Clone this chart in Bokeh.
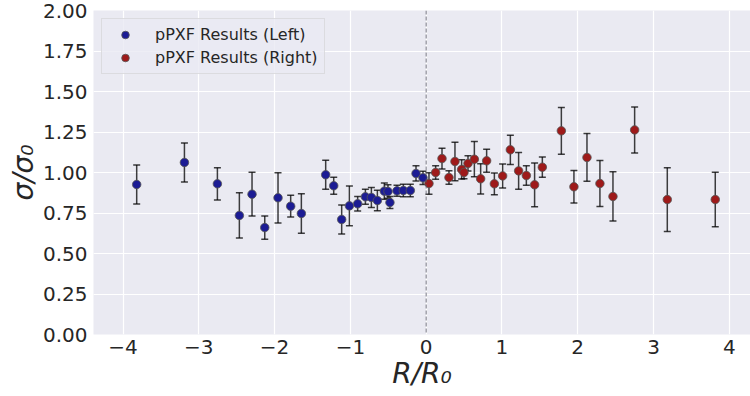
from bokeh.plotting import figure
from bokeh.models import ColumnDataSource, Whisker, TeeHead, Span, Legend, LegendItem, FixedTicker
from bokeh.embed import file_html
from bokeh.resources import INLINE

x_left = [-3.82, -3.19, -2.755, -2.465, -2.298, -2.13, -1.955, -1.788, -1.647, -1.326, -1.22, -1.115,
          -1.013, -0.904, -0.802, -0.723, -0.644, -0.552, -0.504, -0.478, -0.385, -0.301, -0.209, -0.134, -0.042]
y_left = [0.926, 1.062, 0.930, 0.735, 0.866, 0.660, 0.844, 0.792, 0.747, 0.986, 0.918, 0.710,
          0.794, 0.807, 0.850, 0.846, 0.827, 0.885, 0.883, 0.815, 0.887, 0.889, 0.889, 0.994, 0.967]
err_left = [0.12, 0.12, 0.10, 0.14, 0.135, 0.072, 0.155, 0.067, 0.122, 0.09, 0.052, 0.09,
            0.122, 0.045, 0.046, 0.062, 0.063, 0.05, 0.042, 0.037, 0.034, 0.038, 0.038, 0.047, 0.041]

x_right = [0.037, 0.125, 0.209, 0.301, 0.380, 0.468, 0.499, 0.552, 0.636, 0.719, 0.798, 0.90, 1.009,
           1.111, 1.220, 1.322, 1.431, 1.533, 1.784, 1.95, 2.122, 2.293, 2.465, 2.751, 3.182, 3.815]
y_right = [0.932, 1.0, 1.086, 0.969, 1.068, 1.019, 1.0, 1.056, 1.082, 0.961, 1.072, 0.930, 0.979,
           1.140, 1.010, 0.981, 0.924, 1.033, 1.257, 0.912, 1.093, 0.932, 0.852, 1.263, 0.833, 0.833]
err_right = [0.067, 0.042, 0.064, 0.042, 0.119, 0.059, 0.038, 0.047, 0.109, 0.093, 0.071, 0.067, 0.074,
             0.09, 0.113, 0.06, 0.135, 0.063, 0.145, 0.1, 0.147, 0.142, 0.152, 0.142, 0.197, 0.168]

x_ticks = [-4, -3, -2, -1, 0, 1, 2, 3, 4]
y_ticks = [0.0, 0.25, 0.5, 0.75, 1.0, 1.25, 1.5, 1.75, 2.0]
labels = ["pPXF Results (Left)", "pPXF Results (Right)"]

FONT = "DejaVu Sans"
TXT = "#262626"

p = figure(width=750, height=396, output_backend="svg", toolbar_location=None,
           x_range=(-4.39, 4.28), y_range=(0, 2.0),
           min_border_left=93, min_border_right=0, min_border_top=10, min_border_bottom=62)
p.background_fill_color = "#EAEAF2"
p.border_fill_color = "white"
p.outline_line_color = None

for g in (p.xgrid[0], p.ygrid[0]):
    g.grid_line_color = "white"
    g.grid_line_width = 1.2
p.xgrid[0].ticker = FixedTicker(ticks=x_ticks)
p.ygrid[0].ticker = FixedTicker(ticks=y_ticks)

p.xaxis.ticker = FixedTicker(ticks=x_ticks)
p.yaxis.ticker = FixedTicker(ticks=y_ticks)
p.xaxis.major_label_overrides = {t: (str(t) if t >= 0 else "\u2212" + str(-t)) for t in x_ticks}
p.yaxis.major_label_overrides = {t: "%.2f" % t for t in y_ticks}

for ax in (p.xaxis[0], p.yaxis[0]):
    ax.axis_line_color = None
    ax.major_tick_line_color = None
    ax.minor_tick_line_color = None
    ax.major_tick_out = 0
    ax.major_tick_in = 0
    ax.minor_tick_out = 0
    ax.minor_tick_in = 0
    ax.major_label_text_font = FONT
    ax.major_label_text_font_size = "20px"
    ax.major_label_text_color = TXT
    ax.axis_label_text_font = FONT
    ax.axis_label_text_font_style = "italic"
    ax.axis_label_text_font_size = "28px"
    ax.axis_label_text_color = TXT
p.xaxis.axis_label = "R/R\u2080"
p.yaxis.axis_label = "\u03c3/\u03c3\u2080"
p.xaxis.major_label_standoff = 5
p.yaxis.major_label_standoff = 6
p.xaxis.axis_label_standoff = 0
p.yaxis.axis_label_standoff = 0

p.add_layout(Span(location=0, dimension="height", line_color="#555566",
                  line_dash="4 2", line_width=0.8))

renderers = []
for xs, ys, es, col in ((x_left, y_left, err_left, "#1c1c94"),
                        (x_right, y_right, err_right, "#9e1a1a")):
    src = ColumnDataSource(dict(x=xs, y=ys,
                                lo=[y - e for y, e in zip(ys, es)],
                                hi=[y + e for y, e in zip(ys, es)]))
    w = Whisker(source=src, base="x", lower="lo", upper="hi",
                line_color="black", line_alpha=0.75, line_width=1.5,
                upper_head=TeeHead(size=7, line_color="black", line_alpha=0.75, line_width=1.5),
                lower_head=TeeHead(size=7, line_color="black", line_alpha=0.75, line_width=1.5))
    p.add_layout(w)
    r = p.scatter("x", "y", source=src, size=8.5, fill_color=col, line_color="#555555",
                  line_alpha=0.8, line_width=1)
    renderers.append(r)

legend = Legend(items=[LegendItem(label=labels[0], renderers=[renderers[0]]),
                       LegendItem(label=labels[1], renderers=[renderers[1]])],
                location="top_left", margin=8, padding=6, spacing=4,
                glyph_width=34, glyph_height=19, label_height=19, label_standoff=13,
                label_text_font=FONT, label_text_font_size="16px", label_text_color=TXT,
                background_fill_color="#EAEAF2", background_fill_alpha=0.8,
                border_line_color="#cccccc", border_line_width=1)
p.add_layout(legend)

open("out.html", "w").write(file_html(p, INLINE))
